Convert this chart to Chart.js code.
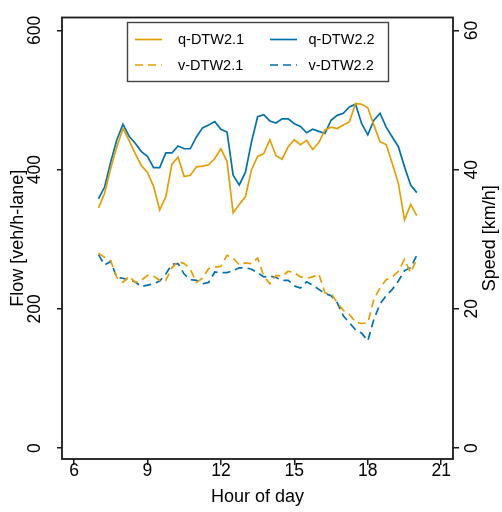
<!DOCTYPE html>
<html lang="en">
  <head>
    <meta charset="UTF-8" />
    <title>Flow and speed by hour of day</title>
    <script src="https://cdn.jsdelivr.net/npm/chart.js"></script>
    <style>
      body {
        margin: 0;
        background: #fff;
      }
    </style>
  </head>
  <body>
    <canvas id="flowChart" width="502" height="512"></canvas>
    <script>
      // 15-minute intervals, 7:00 to 20:00
      const hours = [
        7, 7.25, 7.5, 7.75, 8, 8.25, 8.5, 8.75, 9, 9.25, 9.5, 9.75, 10, 10.25,
        10.5, 10.75, 11, 11.25, 11.5, 11.75, 12, 12.25, 12.5, 12.75, 13, 13.25,
        13.5, 13.75, 14, 14.25, 14.5, 14.75, 15, 15.25, 15.5, 15.75, 16, 16.25,
        16.5, 16.75, 17, 17.25, 17.5, 17.75, 18, 18.25, 18.5, 18.75, 19, 19.25,
        19.5, 19.75, 20,
      ];

      // flow, veh/h-lane
      const flowDTW21 = [
        345, 366, 402, 433, 459, 442, 423, 406, 396, 376, 342, 361, 408, 418,
        390, 392, 404, 405, 407, 416, 430, 412, 338, 350, 361, 400, 419, 423,
        443, 420, 415, 433, 443, 436, 442, 429, 439, 457, 461, 459, 464, 469,
        495, 494, 489, 464, 440, 436, 409, 380, 328, 350, 334,
      ];
      const flowDTW22 = [
        358, 375, 411, 443, 465, 448, 438, 426, 419, 403, 403, 424, 424, 434,
        430, 430, 447, 460, 464, 469, 458, 454, 392, 378, 396, 440, 476, 479,
        470, 467, 473, 473, 466, 462, 453, 458, 455, 452, 471, 478, 481, 490,
        494, 466, 450, 471, 481, 461, 447, 433, 404, 378, 367,
      ];

      // speed, km/h
      const speedDTW21 = [
        28.0, 27.4, 26.9, 24.5, 23.8, 24.7, 23.8, 24.1, 24.8, 24.7, 24.1, 24.1,
        25.9, 26.8, 26.5, 25.7, 23.8, 24.4, 25.8, 26.0, 26.1, 27.7, 27.3, 26.3,
        26.6, 26.5, 27.3, 24.7, 23.6, 24.8, 24.7, 25.4, 25.2, 24.6, 24.4, 24.6,
        25.0, 22.3, 22.2, 20.9, 19.8, 19.2, 18.1, 17.9, 18.0, 21.4, 23.0, 24.2,
        24.6, 25.4, 27.1, 25.2, 27.1,
      ];
      const speedDTW22 = [
        27.8, 26.3, 26.8, 24.5, 24.4, 24.1, 23.9, 23.2, 23.4, 23.6, 24.0, 25.0,
        26.4, 26.5, 25.0, 24.2, 24.1, 23.6, 23.8, 25.3, 25.2, 25.2, 25.5, 25.9,
        25.9, 25.7, 25.2, 24.6, 24.7, 24.5, 24.1, 24.1, 23.3, 23.0, 23.9, 23.4,
        22.8, 22.2, 21.9, 20.9, 19.0, 18.0, 17.0, 16.5, 15.4, 18.5, 20.7, 21.9,
        22.8, 24.0, 25.5, 25.9, 27.7,
      ];

      const hourTicks = [6, 9, 12, 15, 18, 21];
      const flowTicks = [0, 200, 400, 600];
      const speedTicks = [0, 20, 40, 60];

      const ORANGE = '#E69F00';
      const BLUE = '#0072B2';
      const FONT = 'Liberation Sans, Arial, Helvetica, sans-serif';
      const DASH = [8, 5];

      const pts = (ys) => hours.map((h, i) => ({ x: h, y: ys[i] }));

      const line = (label, data, color, axis, dashed) => ({
        label: label,
        data: pts(data),
        yAxisID: axis,
        borderColor: color,
        backgroundColor: color,
        borderWidth: 1.7,
        borderDash: dashed ? DASH : [],
        pointRadius: 0,
        tension: 0,
        fill: false,
      });

      const fixedTicks = (values) => (scale) => {
        scale.ticks = values.map((v) => ({ value: v }));
      };

      // plot frame, boxed 2x2 legend and right-hand axis title
      const decorations = {
        id: 'decorations',
        afterDatasetsDraw(chart) {
          const { ctx, chartArea: a } = chart;
          ctx.save();
          ctx.strokeStyle = '#1a1a1a';
          ctx.lineWidth = 1.8;
          ctx.strokeRect(a.left, a.top, a.right - a.left, a.bottom - a.top);
          ctx.restore();
        },
        afterDraw(chart) {
          const { ctx } = chart;
          ctx.save();

          // legend box
          ctx.fillStyle = '#fff';
          ctx.fillRect(127, 22, 261, 59);
          ctx.strokeStyle = '#444';
          ctx.lineWidth = 1.4;
          ctx.strokeRect(127.5, 22.5, 261, 59);

          const entries = [
            { ds: 0, x: 135, tx: 178, y: 39.5 },
            { ds: 1, x: 270, tx: 308.5, y: 39.5 },
            { ds: 2, x: 135, tx: 178, y: 65 },
            { ds: 3, x: 270, tx: 308.5, y: 65 },
          ];
          ctx.font = '14.5px ' + FONT;
          ctx.textBaseline = 'middle';
          ctx.textAlign = 'left';
          entries.forEach((e) => {
            const ds = chart.data.datasets[e.ds];
            ctx.beginPath();
            ctx.strokeStyle = ds.borderColor;
            ctx.lineWidth = 1.7;
            ctx.setLineDash(ds.borderDash);
            ctx.moveTo(e.x, e.y);
            ctx.lineTo(e.x + 27, e.y);
            ctx.stroke();
            ctx.setLineDash([]);
            ctx.fillStyle = '#000';
            ctx.fillText(ds.label, e.tx, e.y + 0.5);
          });

          // right axis title, reading upwards like the left one
          ctx.translate(490, chart.chartArea.top + (chart.chartArea.bottom - chart.chartArea.top) / 2);
          ctx.rotate(-Math.PI / 2);
          ctx.font = '18px ' + FONT;
          ctx.textAlign = 'center';
          ctx.fillText('Speed [km/h]', 0, 0);
          ctx.restore();
        },
      };

      const tickFont = { family: FONT, size: 17.5 };
      const titleFont = { family: FONT, size: 18 };
      const tickGrid = {
        display: true,
        drawOnChartArea: false,
        drawTicks: true,
        color: '#1a1a1a',
        lineWidth: 1.5,
      };

      new Chart(document.getElementById('flowChart').getContext('2d'), {
        type: 'line',
        data: {
          datasets: [
            line('q-DTW2.1', flowDTW21, ORANGE, 'y', false),
            line('q-DTW2.2', flowDTW22, BLUE, 'y', false),
            line('v-DTW2.1', speedDTW21, ORANGE, 'y2', true),
            line('v-DTW2.2', speedDTW22, BLUE, 'y2', true),
          ],
        },
        options: {
          responsive: false,
          animation: false,
          layout: { padding: { top: 15, left: 0, right: 0, bottom: 0 } },
          plugins: { legend: { display: false }, tooltip: { enabled: false } },
          scales: {
            x: {
              type: 'linear',
              min: 5.51,
              max: 21.48,
              afterBuildTicks: fixedTicks(hourTicks),
              afterFit: (s) => { s.height = 53; },
              grid: { ...tickGrid, tickLength: 6 },
              border: { display: false },
              ticks: { color: '#000', font: tickFont, padding: -4, maxRotation: 0 },
              title: {
                display: true,
                text: 'Hour of day',
                color: '#000',
                font: titleFont,
                padding: { top: 0, bottom: 4 },
              },
            },
            y: {
              position: 'left',
              min: -15.7,
              max: 618.6,
              afterBuildTicks: fixedTicks(flowTicks),
              afterFit: (s) => { s.width = 62; },
              grid: { ...tickGrid, tickLength: 5 },
              border: { display: false },
              ticks: {
                color: '#000',
                font: tickFont,
                minRotation: 90,
                maxRotation: 90,
                crossAlign: 'center',
                padding: 7,
              },
              title: {
                display: true,
                text: 'Flow [veh/h-lane]',
                color: '#000',
                font: titleFont,
                padding: { top: 7, bottom: 0 },
              },
            },
            y2: {
              position: 'right',
              min: -1.57,
              max: 61.86,
              afterBuildTicks: fixedTicks(speedTicks),
              afterFit: (s) => { s.width = 49; },
              grid: { ...tickGrid, tickLength: 6 },
              border: { display: false },
              ticks: {
                color: '#000',
                font: tickFont,
                minRotation: 90,
                maxRotation: 90,
                crossAlign: 'center',
                padding: 3,
              },
            },
          },
        },
        plugins: [decorations],
      });
    </script>
  </body>
</html>
